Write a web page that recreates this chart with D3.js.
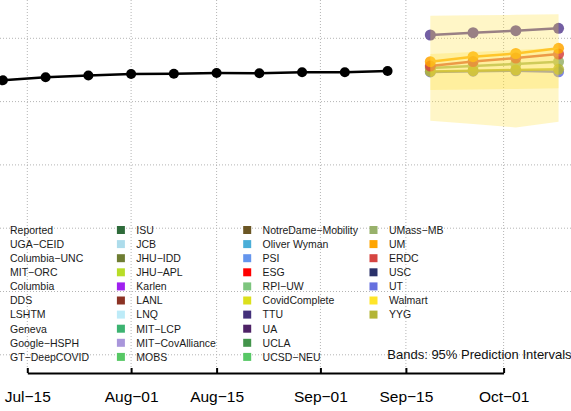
<!DOCTYPE html>
<html>
<head>
<meta charset="utf-8">
<script src="https://cdn.jsdelivr.net/npm/d3@7"></script>
<style>
body { margin: 0; background: #fff; }
svg { display: block; font-family: "Liberation Sans", Arial, sans-serif; }
</style>
</head>
<body>
<div id="chart"></div>
<script>
var width = 571;
var height = 411;

// reported weekly values
var reportedDates = ["2020-07-11", "2020-07-18", "2020-07-25", "2020-08-01", "2020-08-08",
    "2020-08-15", "2020-08-22", "2020-08-29", "2020-09-05", "2020-09-12"];
var reportedValues = [4336, 4384, 4412, 4436, 4441, 4452, 4449, 4463, 4463, 4483];

// forecasts
var forecastDates = ["2020-09-19", "2020-09-26", "2020-10-03", "2020-10-10"];
var forecastModels = ["TTU", "UT", "UMass-MB", "YYG", "ERDC", "UM"];
var forecastColors = ["#5b4394", "#6670df", "#98b16b", "#b3b536", "#d64541", "#ffa500"];
var forecastValues = [
    [5052, 5088, 5120, 5158],
    [4468, 4480, 4487, 4471],
    [4531, 4562, 4594, 4630],
    [4476, 4488, 4499, 4510],
    [4562, 4633, 4689, 4752],
    [4630, 4709, 4760, 4842]
];

// 95% prediction interval bands
var bandLower = [
    [3698, 3646, 3591, 3682],
    [4183, 4191, 4199, 4210]
];
var bandUpper = [
    [5357, 5363, 5371, 5379],
    [4752, 4784, 4815, 4851]
];

var tickDates = ["2020-07-15", "2020-08-01", "2020-08-15", "2020-09-01", "2020-09-15", "2020-10-01"];
var tickLabels = ["Jul\u221215", "Aug\u221201", "Aug\u221215", "Sep\u221201", "Sep\u221215", "Oct\u221201"];
var yTicks = [0, 1000, 2000, 3000, 4000, 5000];

var legendNames = ["Reported", "UGA\u2212CEID", "Columbia\u2212UNC", "MIT\u2212ORC", "Columbia", "DDS", "LSHTM", "Geneva", "Google\u2212HSPH", "GT\u2212DeepCOVID",
    "ISU", "JCB", "JHU\u2212IDD", "JHU\u2212APL", "Karlen", "LANL", "LNQ", "MIT\u2212LCP", "MIT\u2212CovAlliance", "MOBS",
    "NotreDame\u2212Mobility", "Oliver Wyman", "PSI", "ESG", "RPI\u2212UW", "CovidComplete", "TTU", "UA", "UCLA", "UCSD\u2212NEU",
    "UMass\u2212MB", "UM", "ERDC", "USC", "UT", "Walmart", "YYG"];
var legendColors = ["#000000", "#1f77b4", "#8c564b", "#e377c2", "#7f7f7f", "#17becf", "#9467bd", "#bcbd22", "#ff7f0e", "#2ca02c",
    "#2e6b3a", "#addceb", "#6e7d32", "#b8dd28", "#a020f0", "#8b3224", "#bdebf8", "#3cb371", "#a996db", "#57c865",
    "#6b5624", "#4aaed8", "#6495ed", "#ff0000", "#7dc57e", "#dce01c", "#43307a", "#4e2266", "#43944b", "#57c865",
    "#98b16b", "#ffa500", "#d64541", "#2a3169", "#6670df", "#ffe529", "#b3b536"];

var parse = d3.utcParse("%Y-%m-%d");

var x = d3.scaleUtc()
    .domain([parse("2020-07-15"), parse("2020-10-01")])
    .range([27.3, 503.6]);

var y = d3.scaleLinear()
    .domain([0, 5000])
    .range([354.8, 38.3]);

var svg = d3.select("#chart")
    .append("svg")
    .attr("width", width)
    .attr("height", height);

// grid
svg.append("g")
    .selectAll("line")
    .data(tickDates)
    .enter()
    .append("line")
    .attr("x1", function (d) { return x(parse(d)); })
    .attr("x2", function (d) { return x(parse(d)); })
    .attr("y1", 0)
    .attr("y2", 370)
    .style("stroke", "#b4b4b4")
    .style("stroke-dasharray", "1,2");

svg.append("g")
    .selectAll("line")
    .data(yTicks)
    .enter()
    .append("line")
    .attr("x1", 0)
    .attr("x2", width)
    .attr("y1", function (d) { return y(d); })
    .attr("y2", function (d) { return y(d); })
    .style("stroke", "#b4b4b4")
    .style("stroke-dasharray", "1,2");

// legend
var rowH = 14.1;
var colW = 126.3;
var legend = svg.append("g").attr("class", "legend");
var items = legend.selectAll("g")
    .data(legendNames)
    .enter()
    .append("g")
    .attr("transform", function (d, i) {
        var col = Math.floor(i / 10), row = i % 10;
        return "translate(" + (-9.4 + col * colW) + "," + (230 + row * rowH) + ")";
    });
items.append("rect")
    .attr("x", 0)
    .attr("y", -4)
    .attr("width", 8)
    .attr("height", 8)
    .style("fill", function (d, i) { return legendColors[i]; });
items.append("text")
    .attr("x", 19.4)
    .attr("y", 3.8)
    .style("font-size", "10.5px")
    .style("fill", "#1a1a1a")
    .text(function (d) { return d; });

svg.append("text")
    .attr("x", 387.3)
    .attr("y", 359)
    .style("font-size", "13px")
    .style("fill", "#111")
    .text("Bands: 95% Prediction Intervals");

// reported
var line = d3.line()
    .x(function (d) { return x(d[0]); })
    .y(function (d) { return y(d[1]); });

var reported = reportedDates.map(function (d, i) { return [parse(d), reportedValues[i]]; });

svg.append("path")
    .datum(reported)
    .attr("d", line)
    .style("fill", "none")
    .style("stroke", "#000")
    .style("stroke-width", 2.5);

svg.append("g")
    .selectAll("circle")
    .data(reported)
    .enter()
    .append("circle")
    .attr("cx", function (d) { return x(d[0]); })
    .attr("cy", function (d) { return y(d[1]); })
    .attr("r", 5)
    .style("fill", "#000");

// forecast lines
forecastModels.forEach(function (m, k) {
    var pts = forecastDates.map(function (d, i) { return [parse(d), forecastValues[k][i]]; });
    var g = svg.append("g").style("opacity", 0.85);
    g.append("path")
        .datum(pts)
        .attr("d", line)
        .style("fill", "none")
        .style("stroke", forecastColors[k])
        .style("stroke-width", 2.5);
    g.selectAll("circle")
        .data(pts)
        .enter()
        .append("circle")
        .attr("cx", function (d) { return x(d[0]); })
        .attr("cy", function (d) { return y(d[1]); })
        .attr("r", 5.5)
        .style("fill", forecastColors[k]);
});

// bands on top
var area = d3.area()
    .x(function (d) { return x(d[0]); })
    .y0(function (d) { return y(d[1]); })
    .y1(function (d) { return y(d[2]); });

bandLower.forEach(function (lo, k) {
    var pts = forecastDates.map(function (d, i) { return [parse(d), lo[i], bandUpper[k][i]]; });
    svg.append("path")
        .datum(pts)
        .attr("d", area)
        .style("fill", "#ffdf30")
        .style("fill-opacity", 0.27);
});

// x axis
var xAxis = d3.axisBottom(x)
    .tickValues(tickDates.map(parse))
    .tickFormat(function (d, i) { return tickLabels[i]; })
    .tickSize(-5)
    .tickSizeOuter(0)
    .tickPadding(18);

var ax = svg.append("g")
    .attr("transform", "translate(0,373)")
    .call(xAxis);
ax.select(".domain").style("stroke", "#000").style("stroke-width", 2);
ax.selectAll(".tick line").style("stroke", "#000").style("stroke-width", 2);
ax.selectAll(".tick text")
    .style("font-size", "15.5px")
    .style("font-family", "Liberation Sans, Arial, sans-serif")
    .style("fill", "#000");
</script>
</body>
</html>
